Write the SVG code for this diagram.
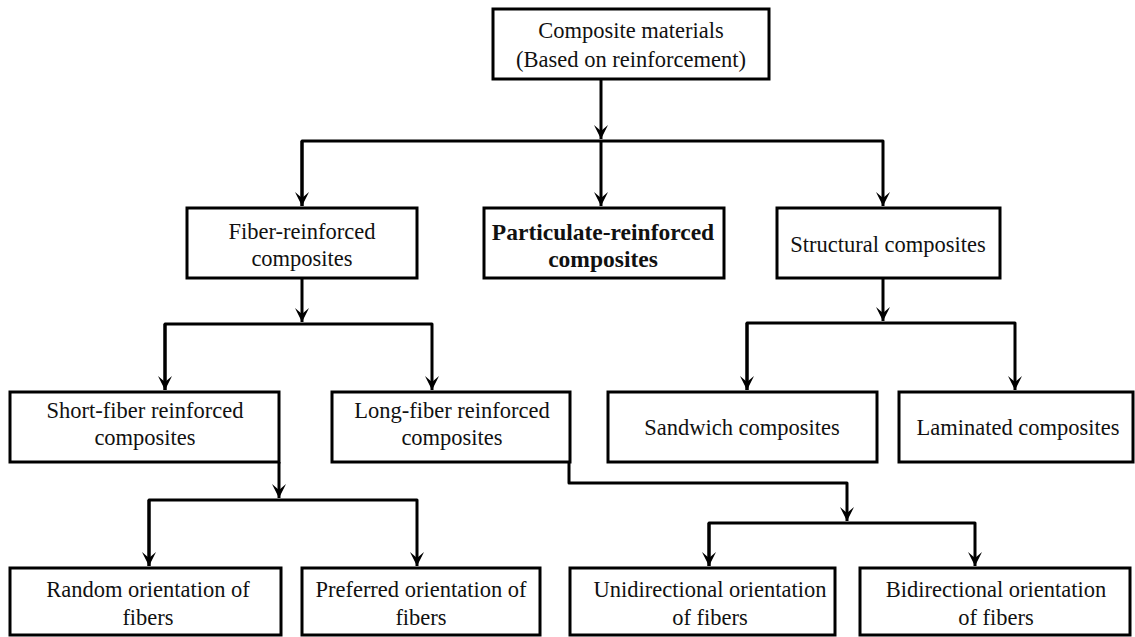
<svg xmlns="http://www.w3.org/2000/svg" width="1135" height="637" viewBox="0 0 1135 637">
<style>
.box{fill:#fff;stroke:#000;stroke-width:3}
.t{font-family:'Liberation Serif','Times New Roman',serif;font-size:22.5px;fill:#111;text-anchor:middle}
.b{font-weight:bold;font-size:23.5px}
.c{fill:none;stroke:#000;stroke-width:3;stroke-linejoin:round}
</style>
<defs>
<marker id="arr" viewBox="-15 -8 16 16" refX="0" refY="0" markerWidth="16" markerHeight="16" orient="auto" markerUnits="userSpaceOnUse">
<path d="M0,0 L-14,-7 L-8,0 L-14,7 Z" fill="#000"/>
</marker>
</defs>
<rect width="1135" height="637" fill="#fff"/>
<g id="connectors">
<path class="c" d="M601,79 V139" marker-end="url(#arr)"/>
<path class="c" d="M302,206 V141 H883 V206" marker-end="url(#arr)"/>
<path class="c" d="M302,141 V206" marker-end="url(#arr)"/>
<path class="c" d="M601,141 V206" marker-end="url(#arr)"/>
<path class="c" d="M302,278 V322" marker-end="url(#arr)"/>
<path class="c" d="M165,390 V324 H432 V390" marker-end="url(#arr)"/>
<path class="c" d="M165,324 V390" marker-end="url(#arr)"/>
<path class="c" d="M883,278 V321" marker-end="url(#arr)"/>
<path class="c" d="M747,390 V323 H1015 V390" marker-end="url(#arr)"/>
<path class="c" d="M747,323 V390" marker-end="url(#arr)"/>
<path class="c" d="M279,462 V498" marker-end="url(#arr)"/>
<path class="c" d="M149,566 V500 H417 V566" marker-end="url(#arr)"/>
<path class="c" d="M149,500 V566" marker-end="url(#arr)"/>
<path class="c" d="M569,462 V483 H847 V521" marker-end="url(#arr)"/>
<path class="c" d="M709,566 V523 H975 V566" marker-end="url(#arr)"/>
<path class="c" d="M709,523 V566" marker-end="url(#arr)"/>
</g>
<g id="n-root">
<rect class="box" x="493" y="9" width="276" height="70"/>
<text class="t" x="631" y="38">Composite materials</text>
<text class="t" x="631" y="67">(Based on reinforcement)</text>
</g>
<g id="n-fiber">
<rect class="box" x="187" y="208" width="230" height="70"/>
<text class="t" x="302" y="239">Fiber-reinforced</text>
<text class="t" x="302" y="266">composites</text>
</g>
<g id="n-particulate">
<rect class="box" x="484" y="208" width="240" height="70"/>
<text class="t b" x="603" y="240">Particulate-reinforced</text>
<text class="t b" x="603" y="267">composites</text>
</g>
<g id="n-structural">
<rect class="box" x="777" y="208" width="223" height="70"/>
<text class="t" x="888" y="252">Structural composites</text>
</g>
<g id="n-short">
<rect class="box" x="10" y="392" width="269" height="70"/>
<text class="t" x="145" y="418">Short-fiber reinforced</text>
<text class="t" x="145" y="445">composites</text>
</g>
<g id="n-long">
<rect class="box" x="332" y="392" width="238" height="70"/>
<text class="t" x="452" y="418">Long-fiber reinforced</text>
<text class="t" x="452" y="445">composites</text>
</g>
<g id="n-sandwich">
<rect class="box" x="608" y="392" width="269" height="70"/>
<text class="t" x="742" y="435">Sandwich composites</text>
</g>
<g id="n-laminated">
<rect class="box" x="899" y="392" width="234" height="70"/>
<text class="t" x="1018" y="435">Laminated composites</text>
</g>
<g id="n-random">
<rect class="box" x="10" y="568" width="271" height="67"/>
<text class="t" x="148" y="597">Random orientation of</text>
<text class="t" x="148" y="625">fibers</text>
</g>
<g id="n-preferred">
<rect class="box" x="302" y="568" width="238" height="67"/>
<text class="t" x="421" y="597">Preferred orientation of</text>
<text class="t" x="421" y="625">fibers</text>
</g>
<g id="n-uni">
<rect class="box" x="570" y="568" width="265" height="67"/>
<text class="t" x="710" y="597">Unidirectional orientation</text>
<text class="t" x="710" y="625">of fibers</text>
</g>
<g id="n-bi">
<rect class="box" x="860" y="568" width="270" height="67"/>
<text class="t" x="996" y="597">Bidirectional orientation</text>
<text class="t" x="996" y="625">of fibers</text>
</g>
</svg>
